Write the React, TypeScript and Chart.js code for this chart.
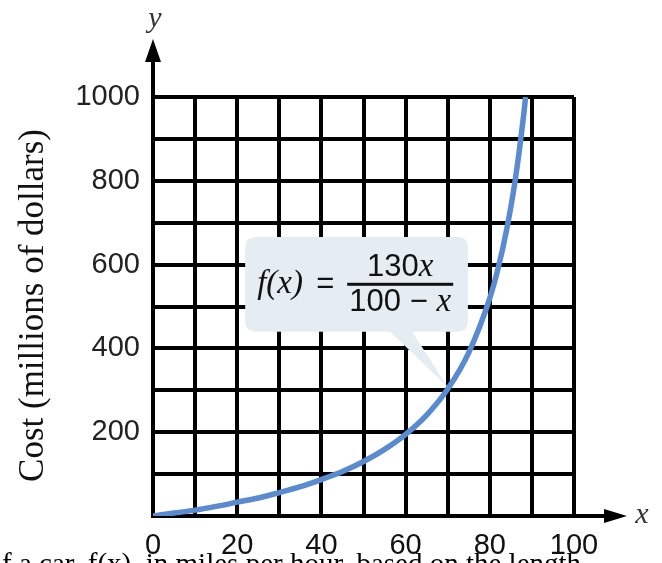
import React, { useEffect, useRef } from "react";
import { Chart, registerables } from "chart.js";

Chart.register(...registerables);

// Speed x (mph) and cost f(x) (millions of dollars)
const speedX = [0, 5, 10, 15, 20, 25, 30, 35, 40, 45, 50, 55, 60, 65, 70, 75, 80, 82, 84, 86, 88, 88.5];
const costY = [0, 7, 14, 23, 33, 43, 56, 70, 87, 106, 130, 159, 195, 241, 303, 390, 520, 592, 683, 799, 953, 1000];

const xTickLabels = ["0", "20", "40", "60", "80", "100"];
const yTickLabels = ["200", "400", "600", "800", "1000"];
const yAxisTitle = "Cost (millions of dollars)";
const captionText = "f a car, f(x), in miles per hour, based on the length";

const CURVE_COLOR = "#5a8bd0";
const CALLOUT_FILL = "#e5edf3";

export default function App() {
  const ref = useRef<HTMLCanvasElement>(null);

  useEffect(() => {
    const canvas = ref.current;
    if (!canvas) return;

    const overlay = {
      id: "overlay",
      afterDatasetsDraw(chart: any) {
        const ctx = chart.ctx as CanvasRenderingContext2D;
        const xs = chart.scales.x;
        const ys = chart.scales.y;
        // callout anchored in data space
        const bx0 = xs.getPixelForValue(21.9);
        const bx1 = xs.getPixelForValue(74.8);
        const by0 = ys.getPixelForValue(666);
        const by1 = ys.getPixelForValue(440);
        const tipX = xs.getPixelForValue(70);
        const tipY = ys.getPixelForValue(308);
        const r = 11;
        ctx.save();
        ctx.fillStyle = CALLOUT_FILL;
        ctx.beginPath();
        ctx.moveTo(bx0 + r, by0);
        ctx.lineTo(bx1 - r, by0);
        ctx.quadraticCurveTo(bx1, by0, bx1, by0 + r);
        ctx.lineTo(bx1, by1 - r);
        ctx.quadraticCurveTo(bx1, by1, bx1 - r, by1);
        ctx.lineTo(bx0 + 167, by1);
        ctx.lineTo(tipX, tipY);
        ctx.lineTo(bx0 + 145, by1);
        ctx.lineTo(bx0 + r, by1);
        ctx.quadraticCurveTo(bx0, by1, bx0, by1 - r);
        ctx.lineTo(bx0, by0 + r);
        ctx.quadraticCurveTo(bx0, by0, bx0 + r, by0);
        ctx.closePath();
        ctx.fill();

        // formula
        const midY = (by0 + by1) / 2;
        ctx.fillStyle = "#111";
        ctx.textBaseline = "middle";
        ctx.textAlign = "left";
        ctx.font = "italic 33px 'Liberation Serif', serif";
        ctx.fillText("f(x)", bx0 + 12, midY);
        ctx.font = "31px 'Liberation Sans', sans-serif";
        ctx.fillText("=", bx0 + 71, midY);
        const barX0 = bx0 + 102;
        const barX1 = bx0 + 208;
        ctx.fillRect(barX0, midY - 1.5, barX1 - barX0, 3);
        const cx = (barX0 + barX1) / 2;
        const drawParts = (parts: [string, string][], y: number) => {
          let w = 0;
          for (const [t, f] of parts) { ctx.font = f; w += ctx.measureText(t).width; }
          let x = cx - w / 2;
          for (const [t, f] of parts) { ctx.font = f; ctx.fillText(t, x, y); x += ctx.measureText(t).width; }
        };
        const sans = "31px 'Liberation Sans', sans-serif";
        const ital = "italic 33px 'Liberation Serif', serif";
        drawParts([["130", sans], ["x", ital]], midY - 17);
        drawParts([["100 ", sans], ["\u2212", sans], [" ", sans], ["x", ital]], midY + 18);
        ctx.restore();
      },
      afterDraw(chart: any) {
        const ctx = chart.ctx as CanvasRenderingContext2D;
        const area = chart.chartArea;
        const xs = chart.scales.x;
        const ys = chart.scales.y;
        const ax = xs.getPixelForValue(0);
        const ay = ys.getPixelForValue(0);
        ctx.save();
        ctx.fillStyle = "#000";
        ctx.strokeStyle = "#000";
        ctx.lineWidth = 4;
        // y-axis extension + arrow
        ctx.beginPath();
        ctx.moveTo(ax, area.top);
        ctx.lineTo(ax, area.top - 40);
        ctx.stroke();
        ctx.beginPath();
        ctx.moveTo(ax, area.top - 58);
        ctx.lineTo(ax + 8, area.top - 35);
        ctx.lineTo(ax - 8, area.top - 35);
        ctx.closePath();
        ctx.fill();
        // x-axis extension + arrow
        ctx.beginPath();
        ctx.moveTo(area.right, ay);
        ctx.lineTo(area.right + 35, ay);
        ctx.stroke();
        ctx.beginPath();
        ctx.moveTo(area.right + 53, ay);
        ctx.lineTo(area.right + 30, ay - 7);
        ctx.lineTo(area.right + 30, ay + 7);
        ctx.closePath();
        ctx.fill();
        // axis letters
        ctx.fillStyle = "#333";
        ctx.font = "italic 30px 'Liberation Serif', serif";
        ctx.textAlign = "center";
        ctx.textBaseline = "alphabetic";
        ctx.fillText("y", ax + 2, 27);
        ctx.fillText("x", area.right + 68, ay + 7);
        // y axis title
        ctx.fillStyle = "#111";
        ctx.translate(43, (area.top + area.bottom) / 2 - 1);
        ctx.rotate(-Math.PI / 2);
        ctx.font = "35px 'Liberation Serif', serif";
        ctx.textAlign = "center";
        ctx.fillText(yAxisTitle, 0, 0, 356);
        ctx.restore();
        // caption (cut off at the bottom)
        ctx.save();
        ctx.fillStyle = "#000";
        ctx.font = "29px 'Liberation Serif', serif";
        ctx.textAlign = "left";
        ctx.textBaseline = "alphabetic";
        ctx.fillText(captionText, 2, 573, 580);
        ctx.restore();
      },
    };

    const chart = new Chart(canvas, {
      type: "line",
      data: {
        datasets: [
          {
            data: speedX.map((x, i) => ({ x, y: costY[i] })),
            borderColor: CURVE_COLOR,
            borderWidth: 5.5,
            pointRadius: 0,
            fill: false,
            cubicInterpolationMode: "monotone",
          },
        ],
      },
      options: {
        responsive: false,
        animation: false,
        events: [],
        layout: { padding: { top: 97, right: 88, left: 0, bottom: 0 } },
        plugins: { legend: { display: false }, tooltip: { enabled: false }, title: { display: false } },
        scales: {
          x: {
            type: "linear",
            min: 0,
            max: 100,
            afterFit: (s: any) => { s.height = 47; },
            ticks: {
              stepSize: 10,
              autoSkip: false,
              maxRotation: 0,
              padding: 13,
              color: "#111",
              font: { family: "'Liberation Sans', sans-serif", size: 29 },
              callback: (v: any) => {
                const s = String(v);
                return xTickLabels.includes(s) ? s : "";
              },
            },
            grid: { color: "#000", lineWidth: 4, drawTicks: false, tickLength: 0 },
            border: { color: "#000", width: 4 },
          },
          y: {
            type: "linear",
            min: 0,
            max: 1000,
            afterFit: (s: any) => { s.width = 153; },
            ticks: {
              stepSize: 100,
              autoSkip: false,
              padding: 13,
              color: "#222",
              font: { family: "'Liberation Sans', sans-serif", size: 29 },
              callback: (v: any) => {
                const s = String(v);
                return yTickLabels.includes(s) ? s : "";
              },
            },
            grid: { color: "#000", lineWidth: 4, drawTicks: false, tickLength: 0 },
            border: { color: "#000", width: 4 },
          },
        },
      },
      plugins: [overlay],
    } as any);

    return () => chart.destroy();
  }, []);

  return (
    <div style={{ position: "absolute", left: 0, top: 0, width: 662, height: 563, background: "#fff" }}>
      <canvas ref={ref} width={662} height={563} style={{ width: 662, height: 563, display: "block" }} />
    </div>
  );
}
